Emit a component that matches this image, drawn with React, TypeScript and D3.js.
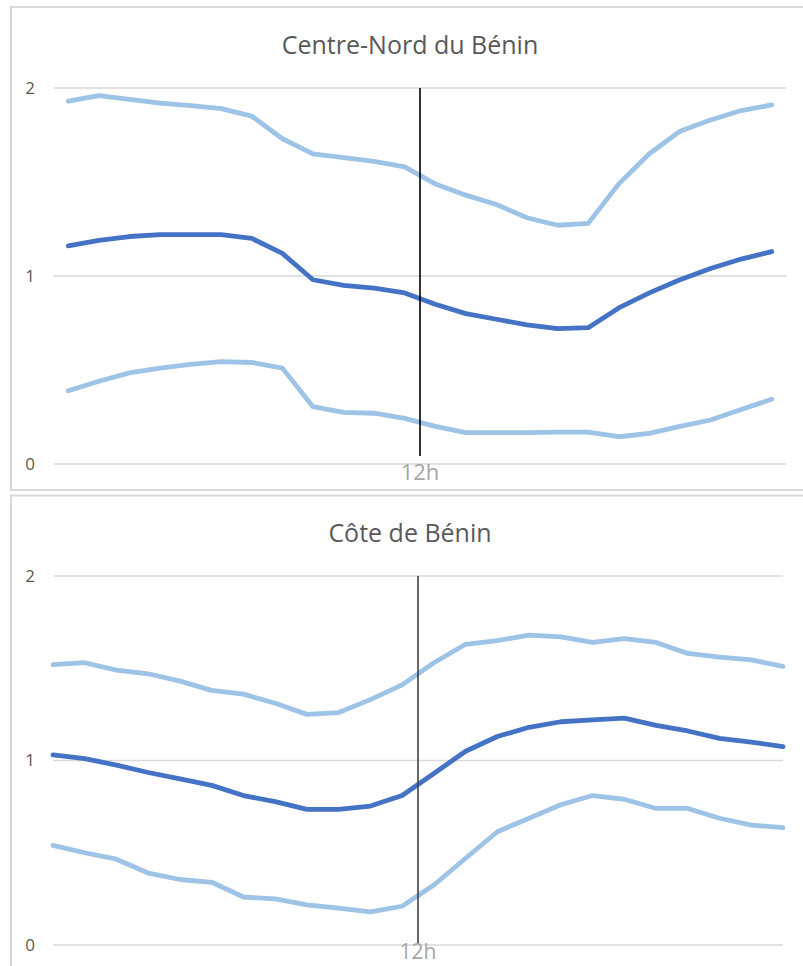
import React from 'react';
import { scaleLinear, scalePoint, line } from 'd3';

// hours of the day (only 12h is labelled)
const hours = Array.from({ length: 24 }, (_, i) => `${i}h`);
const yTicks = [0, 1, 2];

// Centre-Nord du Bénin
const nordHaut = [1.93, 1.96, 1.94, 1.92, 1.906, 1.89, 1.85, 1.73, 1.65, 1.63, 1.61, 1.58, 1.49, 1.43, 1.38, 1.31, 1.27, 1.28, 1.49, 1.65, 1.77, 1.83, 1.88, 1.91];
const nordMoy = [1.16, 1.19, 1.21, 1.22, 1.22, 1.22, 1.2, 1.12, 0.98, 0.95, 0.935, 0.91, 0.85, 0.8, 0.77, 0.74, 0.72, 0.725, 0.83, 0.91, 0.98, 1.04, 1.09, 1.13];
const nordBas = [0.39, 0.44, 0.485, 0.51, 0.53, 0.545, 0.54, 0.51, 0.305, 0.275, 0.27, 0.243, 0.2, 0.167, 0.167, 0.167, 0.17, 0.17, 0.145, 0.163, 0.2, 0.234, 0.29, 0.344];

// Côte de Bénin
const coteHaut = [1.52, 1.53, 1.49, 1.47, 1.43, 1.38, 1.36, 1.31, 1.25, 1.26, 1.33, 1.41, 1.53, 1.63, 1.65, 1.68, 1.67, 1.64, 1.66, 1.64, 1.58, 1.56, 1.545, 1.51];
const coteMoy = [1.03, 1.01, 0.975, 0.935, 0.9, 0.865, 0.81, 0.777, 0.735, 0.735, 0.753, 0.81, 0.93, 1.05, 1.13, 1.18, 1.21, 1.22, 1.23, 1.19, 1.16, 1.12, 1.1, 1.075];
const coteBas = [0.54, 0.5, 0.465, 0.39, 0.355, 0.34, 0.26, 0.25, 0.217, 0.2, 0.18, 0.21, 0.325, 0.47, 0.614, 0.687, 0.76, 0.81, 0.79, 0.74, 0.74, 0.687, 0.65, 0.636];

const LIGHT = '#9dc3e6';
const DARK = '#4472c4';
const FONT = 'Open Sans, sans-serif';

function Panel({ title, titleY, top, bottom, x0, x1, pad, series, markColor, markTop, markBottom, labelY, labelSize }) {
  const x = scalePoint().domain(hours).range([x0, x1]).padding(pad);
  const y = scaleLinear().domain([0, 2]).range([bottom, top]);
  const gen = line<number>()
    .x((d, i) => x(hours[i]))
    .y(d => y(d));
  // marker sits between 11h and 12h points
  const markX = (x('11h') + x('12h')) / 2;

  return (
    <g>
      <text x={410} y={titleY} textAnchor="middle" fontFamily={FONT} fontSize={25} fill="#595959">
        {title}
      </text>
      {yTicks.map(t => (
        <g key={t}>
          <line x1={53} x2={x1} y1={y(t)} y2={y(t)} stroke="#d9d9d9" strokeWidth={1.5} />
          <text x={30} y={y(t)} dy="0.35em" textAnchor="middle" fontFamily={FONT} fontSize={17} fill="#595959">
            {t}
          </text>
        </g>
      ))}
      {series.map(s => (
        <path
          key={s.name}
          d={gen(s.values)}
          fill="none"
          stroke={s.color}
          strokeWidth={s.width}
          strokeLinejoin="round"
          strokeLinecap="round"
        />
      ))}
      <line x1={markX} x2={markX} y1={markTop} y2={markBottom} stroke={markColor} strokeWidth={1.6} />
      <text x={markX} y={labelY} textAnchor="middle" fontFamily={FONT} fontSize={labelSize} fill="#a6a6a6">
        12h
      </text>
    </g>
  );
}

export default function App() {
  return (
    <svg width={803} height={966} style={{ position: 'absolute', left: 0, top: 0, background: '#fff' }}>
      <rect x={11} y={7} width={820} height={483} fill="#fff" stroke="#d9d9d9" strokeWidth={2} />
      <rect x={11} y={495.5} width={820} height={500} fill="#fff" stroke="#d9d9d9" strokeWidth={2} />
      <Panel
        title="Centre-Nord du Bénin"
        titleY={54}
        top={88}
        bottom={464}
        x0={53}
        x1={787}
        pad={0.5}
        markColor="#000"
        markTop={88}
        markBottom={456}
        labelY={480}
        labelSize={22}
        series={[
          { name: 'haut', values: nordHaut, color: LIGHT, width: 4.8 },
          { name: 'bas', values: nordBas, color: LIGHT, width: 4.8 },
          { name: 'moy', values: nordMoy, color: DARK, width: 4.8 },
        ]}
      />
      <Panel
        title="Côte de Bénin"
        titleY={542}
        top={576}
        bottom={945}
        x0={53}
        x1={783}
        pad={0}
        markColor="#404040"
        markTop={576}
        markBottom={944}
        labelY={959}
        labelSize={21}
        series={[
          { name: 'haut', values: coteHaut, color: LIGHT, width: 4.8 },
          { name: 'bas', values: coteBas, color: LIGHT, width: 4.8 },
          { name: 'moy', values: coteMoy, color: DARK, width: 4.8 },
        ]}
      />
    </svg>
  );
}
